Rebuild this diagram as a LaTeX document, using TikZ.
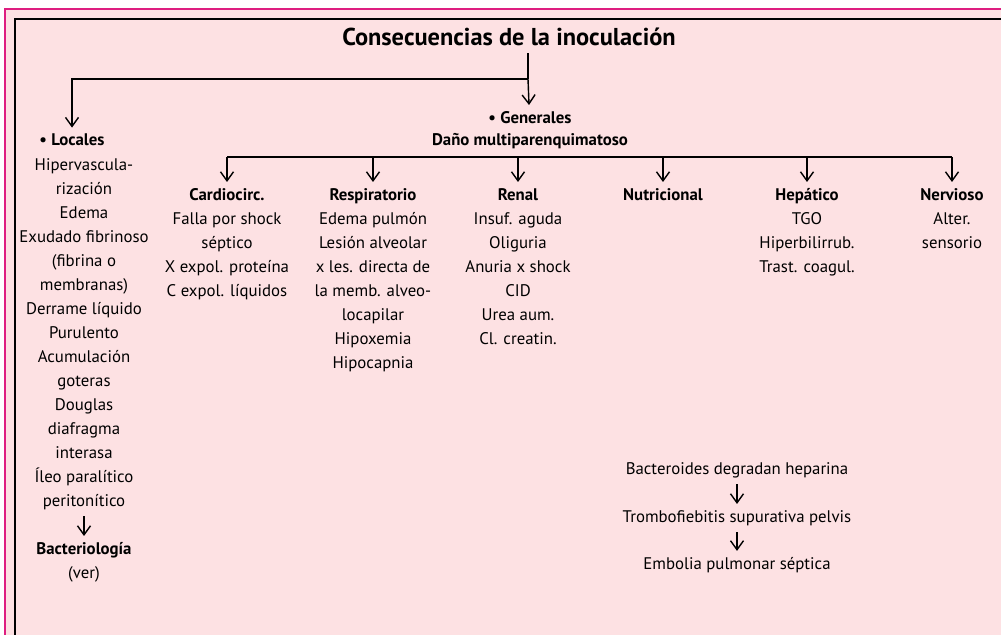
\documentclass[tikz,border=0pt]{standalone}
\usepackage{fontspec}
\setmainfont{PT Sans}
\usetikzlibrary{arrows.meta}
\definecolor{pagepink}{RGB}{253,225,227}
\definecolor{edgemagenta}{RGB}{222,30,128}

\begin{document}
\begin{tikzpicture}[x=0.5pt, y=-0.5pt,
    txt/.style={font=\fontsize{8.4}{12}\selectfont, align=center, inner sep=3pt},
    arr/.style={-{Straight Barb[length=4.5pt,width=6.5pt]}, line width=0.7pt}]
    % Page and frame
    \useasboundingbox (0,0) rectangle (1001,635);
    \fill[white] (0,0) rectangle (1001,635);
    \fill[pagepink] (5,9) rectangle (1001,635);
    \draw[edgemagenta, line width=1pt] (5,635) -- (5,9) -- (1001,9);
    \draw[line width=0.8pt] (15,635) -- (15,19) -- (1001,19);

    % Title and first split
    \node[font=\fontsize{12.2}{14}\selectfont\bfseries] (title) at (509,37) {Consecuencias de la inoculación};
    \coordinate (split) at (528,79);
    \node[txt, anchor=north] (gen) at (530,105) {{\bfseries • Generales}\\[-1pt]{\bfseries Daño multiparenquimatoso}};
    \node[txt, font=\fontsize{8.4}{12}\selectfont\bfseries] (loc) at (72,140) {• Locales};
    \draw[line width=0.7pt] (title.south -| split) -- (split);
    \draw[arr] (split) -- (gen);
    \draw[arr] (split) -| (loc);

    % Locales list
    \node[txt, anchor=north] (locl) at (84,152) {Hipervascula-\\ rización\\ Edema\\ Exudado fibrinoso\\ (fibrina o\\ membranas)\\ Derrame líquido\\ Purulento\\ Acumulación\\ goteras\\ Douglas\\ diafragma\\ interasa\\ Íleo paralítico\\ peritonítico};
    \node[txt, anchor=north] (bacter) at (84,536) {{\bfseries Bacteriología}\\ (ver)};
    \draw[arr] (locl) -- (bacter);

    % Generales columns
    \node[txt, anchor=north] (cardio) at (227,182) {{\bfseries Cardiocirc.}\\ Falla por shock\\ séptico\\ X expol. proteína\\ C expol. líquidos};
    \node[txt, anchor=north] (resp) at (373,182) {{\bfseries Respiratorio}\\ Edema pulmón\\ Lesión alveolar\\ x les. directa de\\ la memb. alveo-\\ locapilar\\ Hipoxemia\\ Hipocapnia};
    \node[txt, anchor=north] (renal) at (518,182) {{\bfseries Renal}\\ Insuf. aguda\\ Oliguria\\ Anuria x shock\\ CID\\ Urea aum.\\ Cl. creatin.};
    \node[txt, anchor=north] (nutri) at (663,182) {{\bfseries Nutricional}};
    \node[txt, anchor=north] (hepat) at (807,182) {{\bfseries Hepático}\\ TGO\\ Hiperbilirrub.\\ Trast. coagul.};
    \node[txt, anchor=north] (nerv) at (952,182) {{\bfseries Nervioso}\\ Alter.\\ sensorio};
    \coordinate (bar) at (0,157);
    \draw[line width=0.7pt] (cardio.north |- bar) -- (nerv.north |- bar);
    \foreach \c in {cardio,resp,renal,nutri,hepat,nerv}
        \draw[arr] (\c.north |- bar) -- (\c.north);

    % Septic chain
    \node[txt] (bact) at (737,470) {Bacteroides degradan heparina};
    \node[txt] (tromb) at (737,518) {Trombofiebitis supurativa pelvis};
    \node[txt] (embol) at (737,565) {Embolia pulmonar séptica};
    \draw[arr] (bact) -- (tromb);
    \draw[arr] (tromb) -- (embol);
\end{tikzpicture}
\end{document}
